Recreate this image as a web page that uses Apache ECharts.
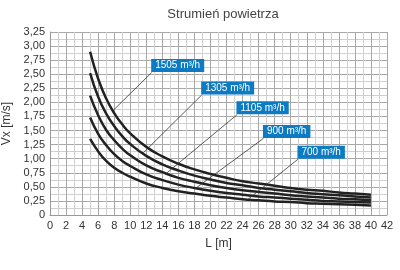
<!DOCTYPE html>
<html>
<head>
<meta charset="utf-8">
<script src="https://cdn.jsdelivr.net/npm/echarts@6/dist/echarts.min.js"></script>
<style>html,body{margin:0;padding:0;background:#fff;}#c{width:400px;height:270px;}</style>
</head>
<body>
<div id="c"></div>
<script>
var lengths = [5,6,7,8,9,10,12,14,16,18,20,22,24,26,28,30,32,34,36,38,40];
var flowNames = ['1505 m³/h','1305 m³/h','1105 m³/h','900 m³/h','700 m³/h'];
var v1505 = [2.90,2.42,2.07,1.81,1.61,1.45,1.21,1.04,0.91,0.81,0.73,0.66,0.60,0.56,0.52,0.48,0.45,0.43,0.40,0.38,0.36];
var v1305 = [2.52,2.10,1.80,1.58,1.40,1.26,1.05,0.90,0.79,0.70,0.63,0.57,0.53,0.48,0.45,0.42,0.39,0.37,0.35,0.33,0.31];
var v1105 = [2.12,1.77,1.51,1.33,1.18,1.06,0.88,0.76,0.66,0.59,0.53,0.48,0.44,0.41,0.38,0.35,0.33,0.31,0.29,0.28,0.26];
var v900  = [1.73,1.44,1.24,1.08,0.96,0.87,0.72,0.62,0.54,0.48,0.43,0.39,0.36,0.33,0.31,0.29,0.27,0.25,0.24,0.23,0.22];
var v700  = [1.35,1.13,0.96,0.84,0.75,0.68,0.56,0.48,0.42,0.38,0.34,0.31,0.28,0.26,0.24,0.23,0.21,0.20,0.19,0.18,0.17];
// annotation anchors (data coords): box corner and leader end on curve
var labelAnchor = [[12.67,2.53],[18.9,2.13],[23.3,1.78],[26.6,1.36],[30.9,0.99]];
var leaderEnd   = [[7.89,1.86],[11.6,1.10],[14.5,0.74],[18.3,0.49],[24.7,0.28]];

var seriesValues = [v1505, v1305, v1105, v900, v700];
var font = 'Liberation Sans, Arial, sans-serif';

var series = seriesValues.map(function(vals, i){
  return {
    name: flowNames[i],
    type: 'line',
    smooth: true,
    symbol: 'none',
    data: lengths.map(function(l, j){ return [l, vals[j]]; }),
    lineStyle: {color: '#222', width: 2.5},
    z: 3,
    markLine: {
      silent: true,
      symbol: 'none',
      label: {show: false},
      lineStyle: {color: '#333', width: 0.8, type: 'solid'},
      data: [[{coord: labelAnchor[i]}, {coord: leaderEnd[i]}]]
    },
    markPoint: {
      silent: true,
      symbol: 'rect',
      symbolSize: 1,
      itemStyle: {color: 'rgba(0,0,0,0)'},
      data: [{coord: labelAnchor[i]}],
      label: {
        show: true,
        formatter: flowNames[i],
        position: [0, -13],
        color: '#fff',
        backgroundColor: '#0c7bc3',
        fontFamily: font,
        fontSize: 10,
        lineHeight: 11,
        padding: [1, 4, 1, 4]
      }
    }
  };
});

var chart = echarts.init(document.getElementById('c'), null, {renderer: 'canvas'});
chart.setOption({
  animation: false,
  backgroundColor: '#fff',
  title: {
    text: 'Strumień powietrza',
    left: 218, top: 3, textAlign: 'center',
    textStyle: {fontFamily: font, fontSize: 13, fontWeight: 'normal', color: '#444'}
  },
  grid: {left: 50, right: 13, top: 32, bottom: 55, containLabel: false, outerBoundsMode: 'none'},
  xAxis: {
    type: 'value', min: 0, max: 42, interval: 2,
    name: 'L [m]', nameLocation: 'middle', nameGap: 23,
    nameTextStyle: {fontFamily: font, fontSize: 12, color: '#333'},
    axisLine: {show: true, lineStyle: {color: '#999'}},
    axisTick: {show: false},
    axisLabel: {fontFamily: font, fontSize: 11, color: '#333', margin: 5},
    splitLine: {show: true, lineStyle: {color: '#a8a8a8', width: 1}},
    minorTick: {show: false, splitNumber: 2},
    minorSplitLine: {show: true, lineStyle: {color: '#d0d0d0', width: 1}}
  },
  yAxis: {
    type: 'value', min: 0, max: 3.25, interval: 0.25,
    name: 'Vx [m/s]', nameLocation: 'middle', nameGap: 29,
    nameTextStyle: {fontFamily: font, fontSize: 12, color: '#333'},
    axisLine: {show: true, lineStyle: {color: '#999'}},
    axisTick: {show: false},
    axisLabel: {
      fontFamily: font, fontSize: 11, color: '#333', margin: 5,
      formatter: function(v){ return v === 0 ? '0' : v.toFixed(2).replace('.', ','); }
    },
    splitLine: {show: true, lineStyle: {color: '#a8a8a8', width: 1}},
    minorTick: {show: false, splitNumber: 2},
    minorSplitLine: {show: true, lineStyle: {color: '#d0d0d0', width: 1}}
  },
  series: series
});
</script>
</body>
</html>
